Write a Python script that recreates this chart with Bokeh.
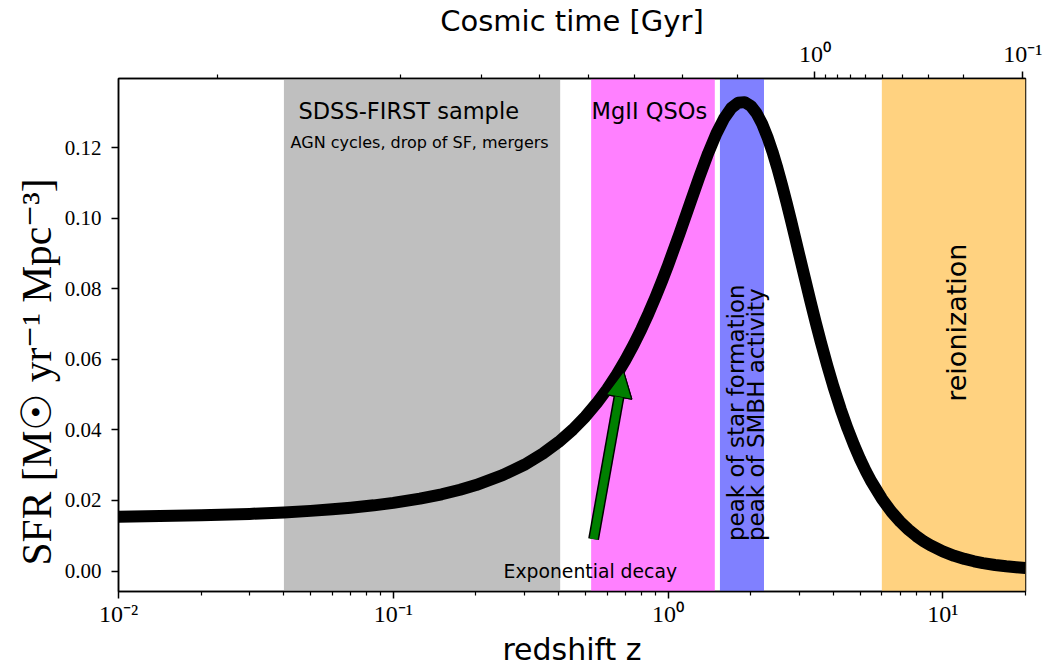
import math

from bokeh.plotting import figure
from bokeh.models import (BoxAnnotation, LogAxis, FixedTicker, CustomJSTickFormatter,
                          PrintfTickFormatter, Label, Arrow, NormalHead, Range1d, Title)
from bokeh.embed import file_html
from bokeh.resources import INLINE

# Cosmic star-formation-rate density [Msun / yr / Mpc^3] against redshift
redshift = [0.01, 0.02, 0.03, 0.04, 0.05, 0.06, 0.07, 0.085, 0.1, 0.125, 0.15,
            0.175, 0.2, 0.25, 0.3, 0.35, 0.4, 0.45, 0.5, 0.55, 0.6, 0.65, 0.7,
            0.75, 0.8, 0.85, 0.9, 0.95, 1.0, 1.1, 1.2, 1.3, 1.4, 1.5, 1.6, 1.7,
            1.8, 1.9, 2.0, 2.1, 2.2, 2.3, 2.4, 2.5, 2.6, 2.7, 2.8, 2.9, 3.0,
            3.15, 3.3, 3.45, 3.6, 3.8, 4.0, 4.25, 4.5, 4.75, 5.0, 5.25, 5.5,
            6.0, 6.5, 7.0, 7.5, 8.0, 8.5, 9.0, 10.0, 11.0, 12.0, 13.0, 14.0,
            15.5, 17.0, 18.5, 20.0]
sfr = [0.01537, 0.01578, 0.01620, 0.01662, 0.01705, 0.01749, 0.01794, 0.01862,
       0.01932, 0.02051, 0.02175, 0.02304, 0.02437, 0.02716, 0.03012, 0.03327,
       0.03659, 0.04008, 0.04374, 0.04756, 0.05152, 0.05562, 0.05984, 0.06417,
       0.06859, 0.07308, 0.07760, 0.08214, 0.08665, 0.09553, 0.10394, 0.11166,
       0.11843, 0.12403, 0.12830, 0.13122, 0.13272, 0.13290, 0.13186, 0.12975,
       0.12675, 0.12305, 0.11882, 0.11423, 0.10939, 0.10443, 0.09948, 0.09458,
       0.08977, 0.08291, 0.07639, 0.07039, 0.06485, 0.05818, 0.05228, 0.04589,
       0.04042, 0.03574, 0.03173, 0.02829, 0.02532, 0.02049, 0.01682, 0.01397,
       0.01173, 0.00994, 0.00850, 0.00733, 0.00556, 0.00432, 0.00343, 0.00277,
       0.00226, 0.00172, 0.00134, 0.00107, 0.00085]

# Shaded redshift intervals
band_z_lo = [0.04, 0.525, 1.545, 6.0]
band_z_hi = [0.405, 1.48, 2.235, 20.0]
band_colors = ["#bfbfbf", "#ff80ff", "#8080ff", "#ffd280"]

# Tick labels
y_ticks = [0.00, 0.02, 0.04, 0.06, 0.08, 0.10, 0.12]
z_major = [0.01, 0.1, 1.0, 10.0]
time_major = [1.0, 0.1]                      # Gyr
time_minor = [9, 8, 7, 6, 5, 4, 3, 2, 0.9, 0.8, 0.7, 0.6, 0.5, 0.4, 0.3, 0.2]

# Einstein-de Sitter age of the Universe, t = T0 (1+z)^-3/2, H0 = 70 km/s/Mpc
T0 = 2.0 / 3.0 * 977.8 / 70.0


def z_at_time(t):
    return (T0 / t) ** (2.0 / 3.0) - 1.0


z_min, z_max = 0.01, 20.0
y_min, y_max = -0.0058, 0.1396

p = figure(width=1050, height=672, x_axis_type="log",
           x_range=Range1d(z_min, z_max), y_range=Range1d(y_min, y_max),
           output_backend="svg", toolbar_location=None,
           min_border_left=118, min_border_right=25,
           min_border_top=77, min_border_bottom=81)
p.grid.visible = False
p.outline_line_color = "black"
p.outline_line_width = 1.5
p.background_fill_color = "white"

for lo, hi, col in zip(band_z_lo, band_z_hi, band_colors):
    p.add_layout(BoxAnnotation(left=lo, right=hi, fill_color=col, fill_alpha=1.0,
                               line_color=None, level="underlay"))

p.line(redshift, sfr, line_width=12, line_color="black", line_join="round")

SUP = """
const sup = {"-": "\\u207b", "0": "\\u2070", "1": "\\u00b9", "2": "\\u00b2",
             "3": "\\u00b3", "4": "\\u2074", "5": "\\u2075", "6": "\\u2076",
             "7": "\\u2077", "8": "\\u2078", "9": "\\u2079"};
const s = String(e).split("").map(c => sup[c]).join("");
return "10" + s;
"""

xa = p.xaxis[0]
xa.ticker = FixedTicker(
    ticks=z_major,
    minor_ticks=[m * 10.0 ** k for k in (-2, -1, 0, 1) for m in range(2, 10)
                 if m * 10.0 ** k <= z_max])
xa.formatter = CustomJSTickFormatter(code="const e = Math.round(Math.log10(tick));" + SUP)
xa.axis_label = "redshift z"

ya = p.yaxis[0]
ya.ticker = FixedTicker(ticks=y_ticks)
ya.formatter = PrintfTickFormatter(format="%.2f")
ya.minor_tick_line_color = None

top = LogAxis(
    ticker=FixedTicker(ticks=[z_at_time(t) for t in time_major],
                       minor_ticks=[z_at_time(t) for t in time_minor]),
    formatter=CustomJSTickFormatter(
        args=dict(T0=T0),
        code="const t = T0 / Math.pow(1 + tick, 1.5);"
             "const e = Math.round(Math.log10(t));" + SUP),
    axis_label="Cosmic time [Gyr]")
p.add_layout(top, "above")

for ax in (xa, ya, top):
    ax.axis_line_width = 1.5
    ax.axis_line_color = "black"
    ax.major_tick_line_width = 1.5
    ax.minor_tick_line_width = 1.2
    ax.major_tick_in = 0
    ax.major_tick_out = 7
    ax.minor_tick_in = 0
    ax.minor_tick_out = 4
    ax.major_label_text_font = "Liberation Serif"
    ax.major_label_text_font_size = "21px"
    ax.major_label_text_color = "black"
    ax.axis_label_text_font_style = "normal"
    ax.axis_label_text_color = "black"

xa.major_label_text_font_size = "24px"
xa.major_label_standoff = 2
xa.axis_label_text_font = "DejaVu Sans"
xa.axis_label_text_font_size = "30px"
xa.axis_label_standoff = 2
top.major_label_text_font_size = "24px"
top.major_label_standoff = 5
top.axis_label_text_font = "DejaVu Sans"
top.axis_label_text_font_size = "29px"
top.axis_label_standoff = 0
ya.major_label_standoff = 10

# vertical axis title, starting a little above the bottom of the frame
p.add_layout(Title(text="SFR [M\u2609 yr\u207b\u00b9 Mpc\u207b\u00b3]",
                   text_font="Liberation Serif", text_font_size="41.5px",
                   text_font_style="normal", text_color="black",
                   align="left", offset=26, standoff=3), "left")

SANS = "DejaVu Sans"


def add_text(x, y, text, size, angle=0.0, align="left", baseline="alphabetic"):
    p.add_layout(Label(x=x, y=y, text=text, angle=angle, text_align=align,
                       text_baseline=baseline, text_font=SANS,
                       text_font_size=size, text_color="black"))


add_text(0.0452, 0.1304, "SDSS-FIRST sample", "22.5px")
add_text(0.0423, 0.1215, "AGN cycles, drop of SF, mergers", "16px")
add_text(0.527, 0.1304, "MgII QSOs", "22.5px")
add_text(1.77, 0.0085, "peak of star formation", "23px", angle=math.pi / 2,
         baseline="middle")
add_text(2.09, 0.0085, "peak of SMBH activity", "23px", angle=math.pi / 2,
         baseline="middle")
add_text(11.23, 0.0704, "reionization", "27px", angle=math.pi / 2, align="center",
         baseline="middle")
add_text(0.252, 0.0, "Exponential decay", "18.8px")

# Arrow pointing from the label to the curve: dark outline, then green body
arrow_tail = (0.536, 0.00905)
arrow_tip = (0.689, 0.0566)
for col, w in (("black", 11), ("green", 8)):
    p.add_layout(Arrow(end=NormalHead(size=26, fill_color="green", line_color="black",
                                      line_width=1.2),
                       x_start=arrow_tail[0], y_start=arrow_tail[1],
                       x_end=arrow_tip[0], y_end=arrow_tip[1],
                       line_color=col, line_width=w))

open("out.html", "w").write(file_html(p, INLINE))
